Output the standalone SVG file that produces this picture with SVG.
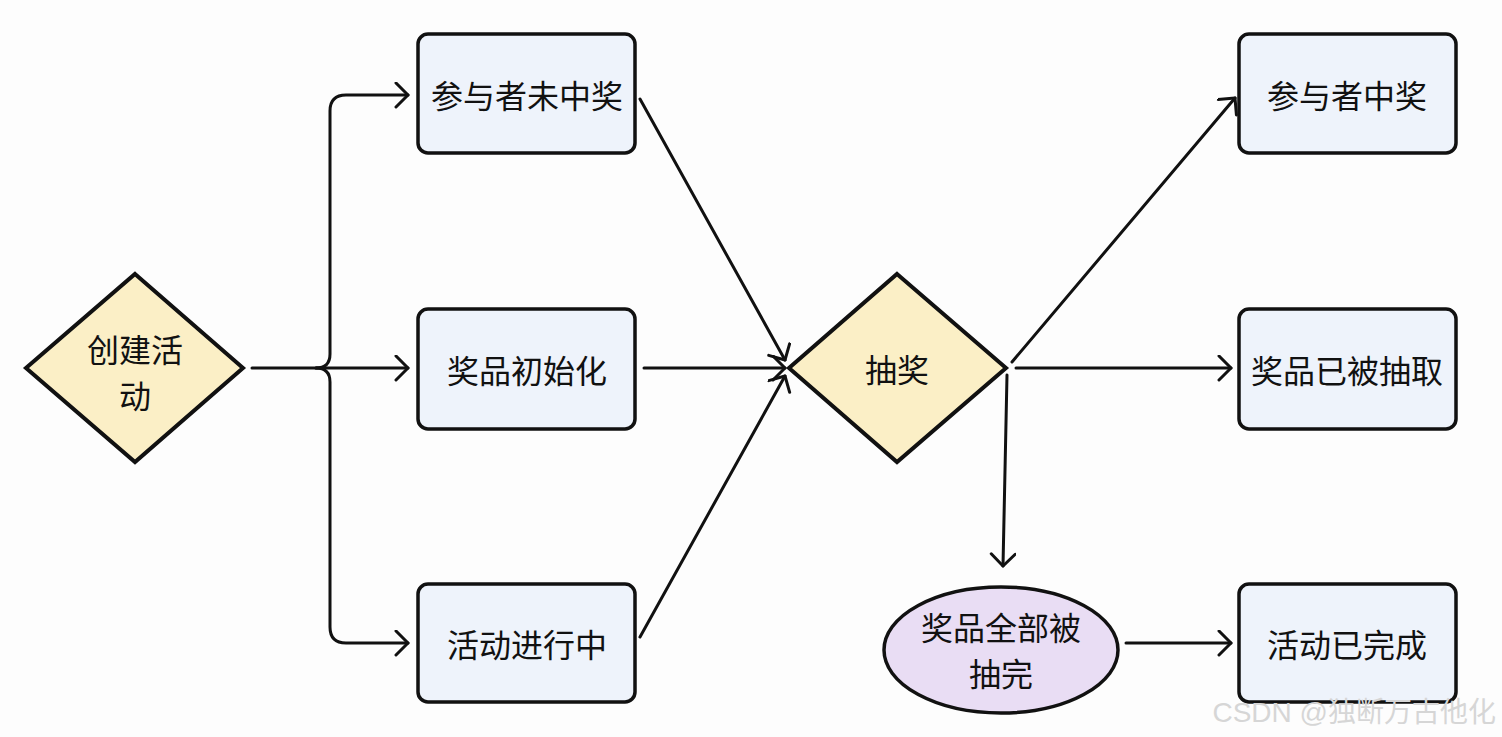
<svg xmlns="http://www.w3.org/2000/svg" width="1502" height="737" viewBox="0 0 1502 737">
<style>
.box{fill:#eef3fb;stroke:#111;stroke-width:3.5}
.dia{fill:#fbefc6;stroke:#111;stroke-width:4;stroke-linejoin:miter}
.ell{fill:#e9ddf4;stroke:#111;stroke-width:3.5}
.t{font-family:"Noto Sans CJK SC","Noto Sans",sans-serif;font-size:32px;fill:#111;text-anchor:middle;dominant-baseline:central}
.c{fill:none;stroke:#111;stroke-width:3;stroke-linecap:round;stroke-linejoin:round}
.wm{font-family:"Liberation Sans","Noto Sans CJK SC",sans-serif;font-size:28px;fill:#d6d6d6;text-anchor:end}
</style>
<defs>
<marker id="a" markerUnits="userSpaceOnUse" markerWidth="24" markerHeight="30" refX="14" refY="13" orient="auto">
<path d="M2,1 L14,13 L2,25" fill="none" stroke="#111" stroke-width="3" stroke-linecap="round" stroke-linejoin="round"/>
</marker>
</defs>
<rect width="1502" height="737" fill="#fdfdfd"/>
<g id="connectors">
<path class="c" d="M252,368 H316 Q330,368 330,354 V111 Q330,95 346,95 H408" marker-end="url(#a)"/>
<path class="c" d="M316,368 Q330,368 330,382 V627 Q330,643 346,643 H408" marker-end="url(#a)"/>
<path class="c" d="M316,368 H408" marker-end="url(#a)"/>
<path class="c" d="M640,99 L785,360" marker-end="url(#a)"/>
<path class="c" d="M644,368 L785,368" marker-end="url(#a)"/>
<path class="c" d="M640,637 L785,376" marker-end="url(#a)"/>
<path class="c" d="M1012,362 L1235,98" marker-end="url(#a)"/>
<path class="c" d="M1016,368 L1231,368" marker-end="url(#a)"/>
<path class="c" d="M1007,375 L1003,566" marker-end="url(#a)"/>
<path class="c" d="M1126,643 L1231,643" marker-end="url(#a)"/>
</g>
<g id="n-create">
<polygon class="dia" points="135,274 243,368 135,462 26,368"/>
<text class="t" x="135" y="348">创建活</text>
<text class="t" x="135" y="394">动</text>
</g>
<g id="n-notwin">
<rect class="box" x="418" y="34" width="217" height="119" rx="10"/>
<text class="t" x="527" y="94">参与者未中奖</text>
</g>
<g id="n-init">
<rect class="box" x="418" y="309" width="217" height="120" rx="10"/>
<text class="t" x="527" y="369">奖品初始化</text>
</g>
<g id="n-running">
<rect class="box" x="418" y="584" width="217" height="118" rx="10"/>
<text class="t" x="527" y="643">活动进行中</text>
</g>
<g id="n-draw">
<polygon class="dia" points="897,274 1006,368 897,462 789,368"/>
<text class="t" x="897" y="368">抽奖</text>
</g>
<g id="n-win">
<rect class="box" x="1239" y="34" width="217" height="119" rx="10"/>
<text class="t" x="1347" y="94">参与者中奖</text>
</g>
<g id="n-drawn">
<rect class="box" x="1239" y="309" width="217" height="120" rx="10"/>
<text class="t" x="1347" y="369">奖品已被抽取</text>
</g>
<g id="n-all">
<ellipse class="ell" cx="1001" cy="650" rx="117" ry="63"/>
<text class="t" x="1001" y="626">奖品全部被</text>
<text class="t" x="1001" y="672">抽完</text>
</g>
<g id="n-done">
<rect class="box" x="1239" y="584" width="217" height="118" rx="10"/>
<text class="t" x="1347" y="643">活动已完成</text>
</g>
<text class="wm" x="1496" y="722">CSDN @独断万古他化</text>
</svg>
